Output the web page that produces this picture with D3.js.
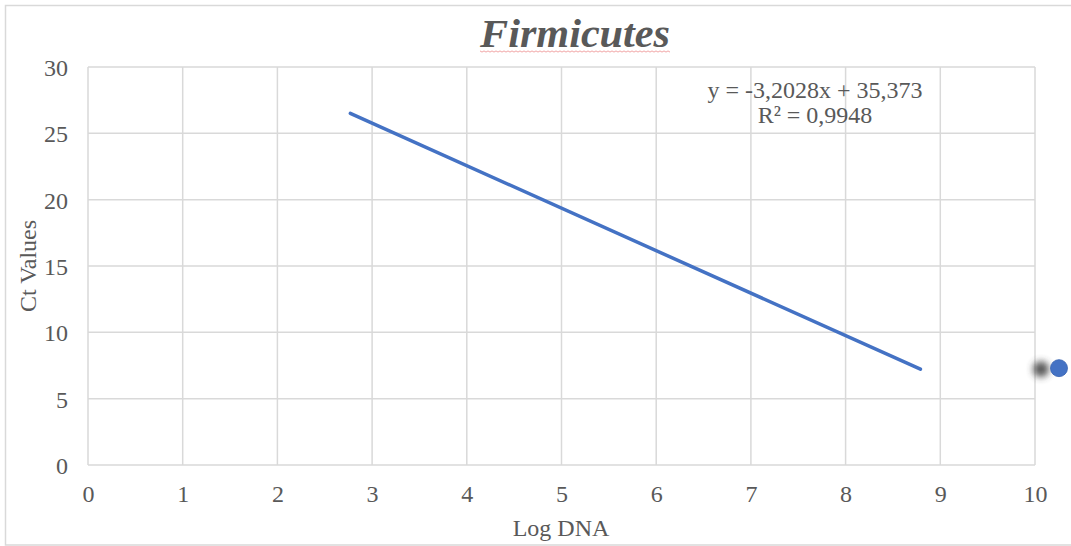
<!DOCTYPE html>
<html>
<head>
<meta charset="utf-8">
<script src="https://cdn.jsdelivr.net/npm/d3@7"></script>
<style>
  html, body { margin: 0; padding: 0; background: #fff; }
  svg { display: block; font-family: "Liberation Serif", "Times New Roman", serif; }
</style>
</head>
<body>
<svg id="chart" width="1071" height="546"></svg>
<script>
// Linear standard curve for Firmicutes qPCR
const chartTitle = "Firmicutes";
const xTicks = [0, 1, 2, 3, 4, 5, 6, 7, 8, 9, 10];
const yTicks = [0, 5, 10, 15, 20, 25, 30];
const trendSlope = -3.2028;
const trendIntercept = 35.373;
const trendXRange = [2.77, 8.79];
const trendLabels = ["y = -3,2028x + 35,373", "R\u00b2 = 0,9948"];
const legendPoint = [7.3];

const svg = d3.select("#chart");
const W = 1071, H = 546;
const plot = { left: 88, right: 1035, top: 67, bottom: 465 };

const x = d3.scaleLinear().domain([0, 10]).range([plot.left, plot.right]);
const y = d3.scaleLinear().domain([0, 30]).range([plot.bottom, plot.top]);

const grey = "#595959";
const gridColor = "#d9d9d9";
const blue = "#4472C4";
const fontSize = "24px";

// chart frame
svg.append("rect")
  .attr("x", 5.5).attr("y", 5.5)
  .attr("width", W + 10).attr("height", 539.5)
  .attr("fill", "#fff").attr("stroke", gridColor).attr("stroke-width", 1.5);

// gridlines
const grid = svg.append("g");
grid.selectAll("line.h").data(yTicks).join("line")
  .attr("x1", plot.left).attr("x2", plot.right)
  .attr("y1", d => y(d)).attr("y2", d => y(d))
  .attr("stroke", gridColor).attr("stroke-width", 1.5);
grid.selectAll("line.v").data(xTicks).join("line")
  .attr("y1", plot.top).attr("y2", plot.bottom)
  .attr("x1", d => x(d)).attr("x2", d => x(d))
  .attr("stroke", gridColor).attr("stroke-width", 1.5);

// axes (labels only, gridlines carry the structure)
const xAxis = d3.axisBottom(x).tickValues(xTicks).tickSize(0).tickPadding(20).tickFormat(d3.format("d"));
const yAxis = d3.axisLeft(y).tickValues(yTicks).tickSize(0).tickPadding(20).tickFormat(d3.format("d"));

const gx = svg.append("g").attr("transform", `translate(0,${plot.bottom})`).call(xAxis);
const gy = svg.append("g").attr("transform", `translate(${plot.left},0)`).call(yAxis);
[gx, gy].forEach(g => {
  g.select(".domain").remove();
  g.selectAll("text")
    .attr("fill", grey)
    .style("font-family", '"Liberation Serif", serif')
    .style("font-size", fontSize);
});
gy.selectAll("text").attr("dy", "0.35em");

// trendline
const trend = trendXRange.map(v => [v, trendSlope * v + trendIntercept]);
svg.append("path")
  .datum(trend)
  .attr("d", d3.line().x(d => x(d[0])).y(d => y(d[1])))
  .attr("fill", "none")
  .attr("stroke", blue)
  .attr("stroke-width", 3.5)
  .attr("stroke-linecap", "round");

// trendline equation
const eq = svg.append("text")
  .attr("text-anchor", "middle")
  .attr("fill", grey)
  .style("font-size", fontSize);
eq.append("tspan").attr("x", 815).attr("y", 98).text(trendLabels[0]);
eq.append("tspan").attr("x", 815).attr("y", 123).text(trendLabels[1]);

// title
svg.append("text")
  .attr("x", 575).attr("y", 47)
  .attr("text-anchor", "middle")
  .attr("fill", grey)
  .attr("textLength", 190)
  .attr("lengthAdjust", "spacingAndGlyphs")
  .style("font-size", "40px")
  .style("font-weight", "bold")
  .style("font-style", "italic")
  .text(chartTitle);

// faint wavy underline beneath the title
const wave = [];
for (let px = 480; px <= 670; px += 2) wave.push([px, 51.5 + ((px / 2) % 2 === 0 ? -0.6 : 0.6)]);
svg.append("path")
  .attr("d", d3.line()(wave))
  .attr("fill", "none")
  .attr("stroke", "#f2a5a5")
  .attr("stroke-width", 1);

// axis titles
svg.append("text")
  .attr("x", 561).attr("y", 536)
  .attr("text-anchor", "middle")
  .attr("fill", grey)
  .style("font-size", fontSize)
  .text("Log DNA");
svg.append("text")
  .attr("transform", `translate(36,266) rotate(-90)`)
  .attr("text-anchor", "middle")
  .attr("fill", grey)
  .style("font-size", fontSize)
  .text("Ct Values");

// legend marker with soft shadow
const defs = svg.append("defs");
defs.append("filter").attr("id", "soft")
  .attr("x", "-100%").attr("y", "-100%").attr("width", "300%").attr("height", "300%")
  .append("feGaussianBlur").attr("stdDeviation", 3.5);
const lg = svg.append("g");
lg.selectAll("circle.shadow").data(legendPoint).join("circle")
  .attr("class", "shadow")
  .attr("cx", 1041).attr("cy", d => y(d) + 1)
  .attr("r", 8)
  .attr("fill", "#3a3a3a")
  .attr("opacity", 0.85)
  .attr("filter", "url(#soft)");
lg.selectAll("circle.dot").data(legendPoint).join("circle")
  .attr("class", "dot")
  .attr("cx", 1059).attr("cy", d => y(d))
  .attr("r", 8.5)
  .attr("fill", blue)
  .attr("stroke", "#3b66b3")
  .attr("stroke-width", 0.8);
</script>
</body>
</html>
